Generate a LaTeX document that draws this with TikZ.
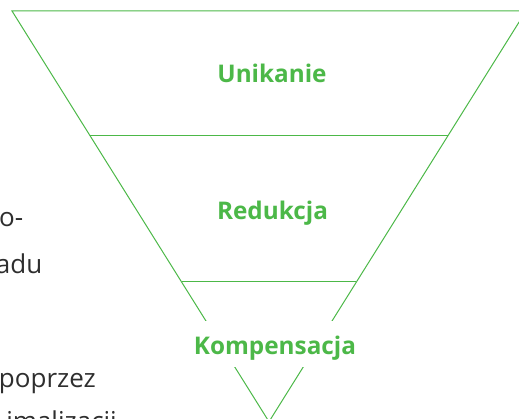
\documentclass[tikz,border=0pt]{standalone}
\usepackage{fontspec}
\setmainfont{Open Sans}
\definecolor{grn}{HTML}{4CB848}
\definecolor{txt}{HTML}{2E2E2E}
\begin{document}
\begin{tikzpicture}[x=1pt,y=-1pt,
  edge/.style={draw=grn,line width=1pt},
  lvl/.style={text=grn,font=\fontsize{24.3}{30}\selectfont\bfseries,inner sep=0pt},
  side/.style={text=txt,font=\fontsize{26}{30}\selectfont,inner sep=0pt}]
\clip (0,0) rectangle (519,419);
\coordinate (tl) at (12,11);
\coordinate (tr) at (526,11);
\coordinate (ap) at (269,421.7);
\coordinate (l1) at (89.9,135.5);
\coordinate (r1) at (448.1,135.5);
\coordinate (l2) at (181.6,282);
\coordinate (r2) at (356.4,282);
\draw[edge] (tl) -- (tr) -- (ap) -- cycle;
\draw[edge] (l1) -- (r1);
\draw[edge] (l2) -- (r2);
\node[lvl,anchor=base] (u) at (272,83) {Unikanie};
\node[lvl,anchor=base] (r) at (272.5,220) {Redukcja};
\node[lvl,anchor=base,fill=white,text height=34pt,text depth=12pt,inner xsep=6pt] (k) at (275,355) {Kompensacja};
\node[side,anchor=base east] (s0) at (1.5,180) {.};
\node[side,anchor=base east] (s1) at (23.5,227) {o-};
\node[side,anchor=base east] (s2) at (42.5,274) {adu};
\node[side,anchor=base east] (s3) at (96,387) {poprzez};
\node[side,anchor=base east] (s4) at (117,430) {imalizacji};
\end{tikzpicture}
\end{document}
